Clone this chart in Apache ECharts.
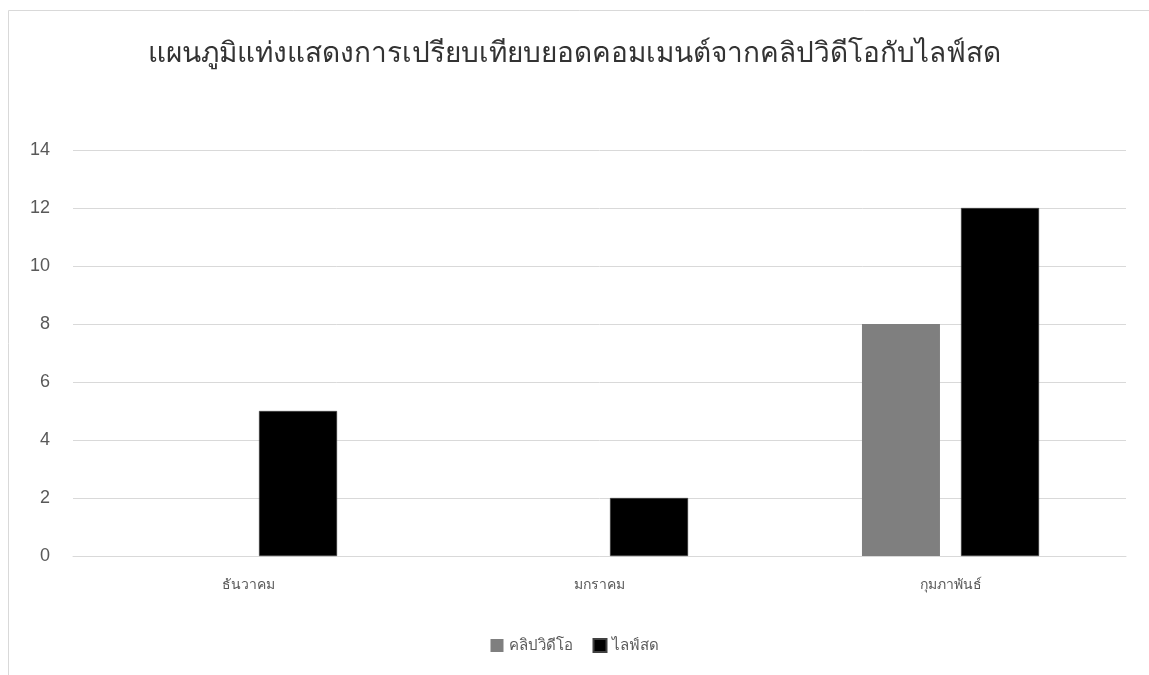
<!DOCTYPE html>
<html lang="th">
<head>
  <meta charset="UTF-8">
  <title>แผนภูมิแท่ง</title>
  <script src="https://cdn.jsdelivr.net/npm/echarts@6/dist/echarts.min.js"></script>
  <style>
    html, body { margin: 0; padding: 0; background: #fff; }
    #main { width: 1149px; height: 675px; }
  </style>
</head>
<body>
  <div id="main"></div>
  <script>
    // ข้อมูล
    var months = ['ธันวาคม', 'มกราคม', 'กุมภาพันธ์'];
    var clipVideo = [0, 0, 8];
    var liveStream = [5, 2, 12];
    var seriesNames = ['คลิปวิดีโอ', 'ไลฟ์สด'];
    var yTicks = [0, 2, 4, 6, 8, 10, 12, 14];

    var font = '"Noto Sans", "DejaVu Sans", sans-serif';
    var numFont = '"Liberation Sans", Arial, sans-serif';
    var myChart = echarts.init(document.getElementById('main'));

    var option = {
      animation: false,
      textStyle: { fontFamily: font },
      title: {
        text: 'แผนภูมิแท่งแสดงการเปรียบเทียบยอดคอมเมนต์จากคลิปวิดีโอกับไลฟ์สด',
        left: 'center',
        top: 35,
        textStyle: { fontSize: 28, fontWeight: 500, color: '#333333', fontFamily: font }
      },
      // กรอบพื้นที่แผนภูมิ
      graphic: [{
        type: 'rect',
        shape: { x: 8.5, y: 10.5, width: 1300, height: 800 },
        style: { fill: 'none', stroke: '#d9d9d9', lineWidth: 1 },
        silent: true
      }],
      legend: {
        data: seriesNames,
        bottom: 17,
        left: 'center',
        itemWidth: 13,
        itemHeight: 13,
        itemGap: 20,
        icon: 'rect',
        textStyle: { fontSize: 15, color: '#595959' }
      },
      grid: { left: 73, right: 23, top: 150, bottom: 119, containLabel: false },
      xAxis: {
        type: 'category',
        data: months,
        axisLine: { lineStyle: { color: '#d9d9d9' } },
        axisTick: { show: false },
        axisLabel: { fontSize: 14, color: '#595959', margin: 22 }
      },
      yAxis: {
        type: 'value',
        min: yTicks[0],
        max: yTicks[yTicks.length - 1],
        interval: 2,
        axisLine: { show: false },
        axisTick: { show: false },
        axisLabel: { fontSize: 18, color: '#595959', margin: 23, fontFamily: numFont },
        splitLine: { lineStyle: { color: '#d9d9d9' } }
      },
      series: [{
        name: seriesNames[0],
        type: 'bar',
        data: clipVideo,
        barWidth: 78,
        barGap: '27%',
        itemStyle: { color: '#7f7f7f' }
      }, {
        name: seriesNames[1],
        type: 'bar',
        data: liveStream,
        barWidth: 78,
        barGap: '27%',
        itemStyle: { color: '#000000', borderColor: '#404040', borderWidth: 0.5 }
      }]
    };
    myChart.setOption(option);
  </script>
</body>
</html>
